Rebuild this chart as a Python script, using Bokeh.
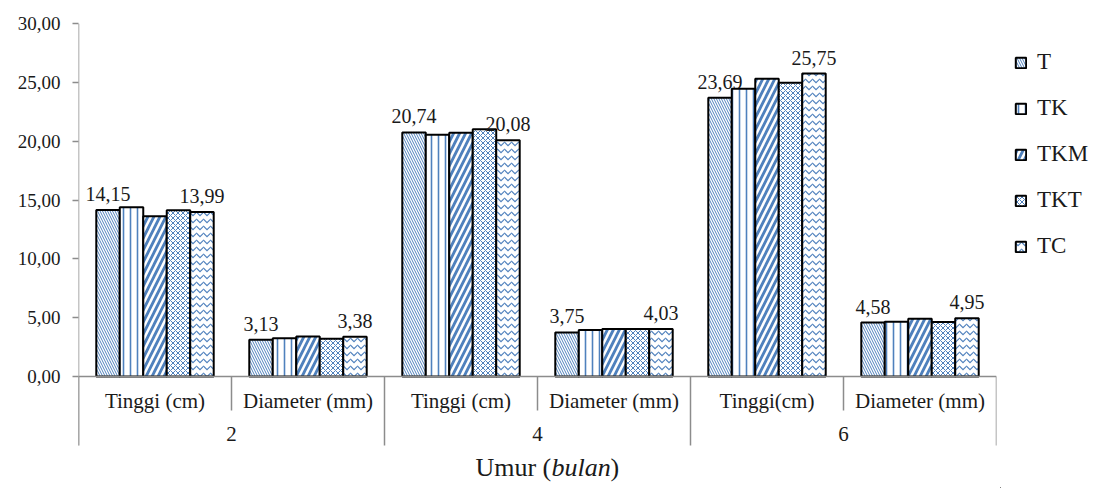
from bokeh.plotting import figure
from bokeh.layouts import row
from bokeh.models import ColumnDataSource, FactorRange, Range1d, FixedTicker, Legend, LegendItem
from bokeh.transform import dodge
from bokeh.core.properties import value
from bokeh.embed import file_html
from bokeh.resources import INLINE

# ---------------- data ----------------
groups = ["2", "4", "6"]
subcats = [["Tinggi (cm)", "Diameter (mm)"],
           ["Tinggi (cm)", "Diameter (mm)"],
           ["Tinggi(cm)", "Diameter (mm)"]]
series = ["T", "TK", "TKM", "TKT", "TC"]
T_vals = [14.15, 3.13, 20.74, 3.75, 23.69, 4.58]
TK_vals = [14.38, 3.26, 20.55, 3.95, 24.45, 4.66]
TKM_vals = [13.62, 3.40, 20.72, 4.04, 25.30, 4.90]
TKT_vals = [14.12, 3.20, 21.02, 4.03, 24.96, 4.64]
TC_vals = [13.99, 3.38, 20.08, 4.03, 25.75, 4.95]
labelled_series = ["T", "TC"]
y_ticks = [0, 5, 10, 15, 20, 25, 30]
y_tick_labels = ["0,00", "5,00", "10,00", "15,00", "20,00", "25,00", "30,00"]
title_parts = ["Umur (", "bulan", ")"]

values = {"T": T_vals, "TK": TK_vals, "TKM": TKM_vals, "TKT": TKT_vals, "TC": TC_vals}
factors = [(g, s) for g, subs in zip(groups, subcats) for s in subs]

# ---------------- styles ----------------
FONT = value("Liberation Serif")
BLUE = "#4f81bd"
AXIS = "#8c8c8c"
TXT = "#1a1a1a"
styles = {
    "T":   dict(hatch_pattern="\\", hatch_scale=5, hatch_weight=1.0),
    "TK":  dict(hatch_pattern="|", hatch_scale=7, hatch_weight=1.6),
    "TKM": dict(hatch_pattern="/", hatch_scale=12, hatch_weight=2.8),
    "TKT": dict(hatch_pattern="x", hatch_scale=5, hatch_weight=1.0),
    "TC":  dict(hatch_pattern="v", hatch_scale=7, hatch_weight=1.2),
}

H = 488
TOP = 23
ZERO = 376
px_per_unit = (ZERO - TOP) / 30.0


def ypix(py):
    return (ZERO - py) / px_per_unit


p = figure(width=1000, height=H,
           x_range=FactorRange(*factors, factor_padding=0, group_padding=0,
                               subgroup_padding=0, range_padding=0),
           y_range=Range1d(ypix(H), 30),
           x_axis_location=None, output_backend="svg", toolbar_location=None,
           min_border_left=78, min_border_right=4, min_border_top=TOP, min_border_bottom=0)
p.grid.visible = False
p.outline_line_color = None
p.background_fill_color = "white"

# y axis
ya = p.yaxis[0]
ya.ticker = FixedTicker(ticks=y_ticks)
ya.major_label_overrides = {t: l for t, l in zip(y_ticks, y_tick_labels)}
ya.axis_line_color = None
ya.major_tick_line_color = AXIS
ya.major_tick_line_width = 1.5
ya.major_tick_out = 6
ya.major_tick_in = 0
ya.minor_tick_line_color = None
ya.major_label_standoff = 12
ya.major_label_text_font = "Liberation Serif"
ya.major_label_text_font_size = "19px"
ya.major_label_text_color = TXT

src = ColumnDataSource(dict(x=factors, **values))

bw = 0.1535
for i, s in enumerate(series):
    off = (i - 2) * bw
    p.vbar(x=dodge("x", off, range=p.x_range), top=s, width=bw, bottom=0,
           source=src, fill_color="white", line_color="black", line_width=2,
           hatch_color=BLUE, **styles[s])
    if s in labelled_series:
        lsrc = ColumnDataSource(dict(x=factors, y=values[s],
                                     t=[f"{v:.2f}".replace(".", ",") for v in values[s]]))
        p.text(x=dodge("x", off, range=p.x_range), y="y", text="t", source=lsrc,
               text_align="center", text_baseline="bottom", y_offset=-9,
               text_font=FONT, text_font_size="20px", text_color=TXT)

# category axis lines
n = len(factors)
y_axis_bottom = ypix(445)
sub_div_bottom = ypix(410)
p.segment(x0=[0], y0=[0], x1=[n], y1=[0], line_color=AXIS, line_width=1.5)
p.segment(x0=[0], y0=[y_axis_bottom], x1=[0], y1=[30], line_color=AXIS, line_width=1.5)
bounds = list(range(n + 1))
grp_bounds = bounds[::2]
sub_bounds = bounds[1::2]
p.segment(x0=grp_bounds, y0=[0] * len(grp_bounds), x1=grp_bounds,
          y1=[y_axis_bottom] * len(grp_bounds), line_color=AXIS, line_width=1.5)
p.segment(x0=sub_bounds, y0=[0] * len(sub_bounds), x1=sub_bounds,
          y1=[sub_div_bottom] * len(sub_bounds), line_color=AXIS, line_width=1.5)

csrc = ColumnDataSource(dict(x=factors, t=[f[1] for f in factors], y=[ypix(400)] * n))
p.text(x="x", y="y", text="t", source=csrc, text_align="center", text_baseline="middle",
       text_font=FONT, text_font_size="21px", text_color=TXT)
gsrc = ColumnDataSource(dict(x=groups, t=groups, y=[ypix(433)] * len(groups)))
p.text(x="x", y="y", text="t", source=gsrc, text_align="center", text_baseline="middle",
       text_font=FONT, text_font_size="21px", text_color=TXT)

# axis title with italic part
title_x = 3.065
title_y = ypix(467)
offsets_px = [-72, 4, 63]
styles_t = ["normal", "italic", "normal"]
for part, ox, st in zip(title_parts, offsets_px, styles_t):
    p.text(x=[title_x], y=[title_y], text=[part], x_offset=ox, text_align="left",
           text_baseline="middle", text_font=FONT, text_font_size="26px",
           text_font_style=st, text_color=TXT)

# legend panel (separate canvas to the right of the chart)
pl = figure(width=91, height=H, x_range=Range1d(0, 1), y_range=Range1d(0, 1),
            x_axis_location=None, y_axis_location=None, output_backend="svg",
            toolbar_location=None, min_border=0)
pl.grid.visible = False
pl.outline_line_color = None
items = []
for s in series:
    # zero-height swatch source placed outside the visible range: only the legend shows it
    r = pl.vbar(x=[-5], top=[0], bottom=[0], width=0.1, fill_color="white", line_color="black",
                line_width=2, hatch_color=BLUE, **styles[s])
    items.append(LegendItem(label=s, renderers=[r], index=0))
legend = Legend(items=items, location=(14, 227), label_text_font="Liberation Serif",
                label_text_font_size="23px", label_text_color=TXT,
                glyph_width=13, glyph_height=13, label_height=30, spacing=16,
                padding=0, margin=0, label_standoff=10,
                border_line_color=None, background_fill_alpha=0)
pl.add_layout(legend)

layout = row(p, pl)
open("out.html", "w").write(file_html(layout, INLINE))
